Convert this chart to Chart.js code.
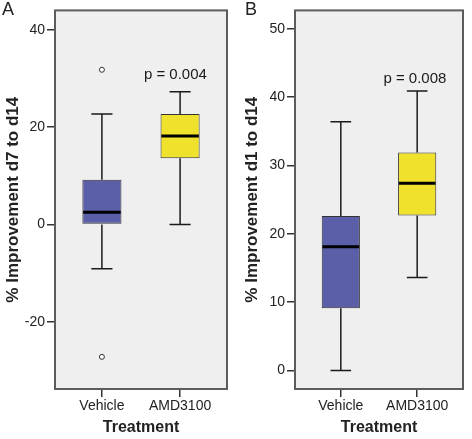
<!DOCTYPE html>
<html>
<head>
<meta charset="utf-8">
<script src="https://cdn.jsdelivr.net/npm/chart.js@4.4.1/dist/chart.umd.min.js"></script>
<style>
  body { margin: 0; background: #fff; }
  #wrap { position: relative; width: 472px; height: 439px; font-family: "Liberation Sans", Arial, sans-serif; }
  .panel { position: absolute; top: 0; width: 236px; height: 439px; }
  .letter { position: absolute; top: -1px; font-size: 18px; color: #222; }
</style>
</head>
<body>
<div id="wrap">
  <div class="panel" style="left:0"><canvas id="chartA" width="236" height="439"></canvas></div>
  <div class="panel" style="left:236px"><canvas id="chartB" width="236" height="439"></canvas></div>
  <div class="letter" style="left:2px">A</div>
  <div class="letter" style="left:245px">B</div>
</div>
<script>
const categories = ["Vehicle", "AMD3100"];
const boxColors = ["#5a5fa8", "#f0e22c"];

// panel A: % improvement d7 to d14
const aMin = [-9.1, 0];
const aQ1 = [0, 13.6];
const aMedian = [2.5, 18.2];
const aQ3 = [9.2, 22.7];
const aMax = [22.7, 27.3];
const aOutliers = [[31.8, -27.2], []];
const aTicks = [-20, 0, 20, 40];

// panel B: % improvement d1 to d14
const bMin = [0, 13.6];
const bQ1 = [9.1, 22.7];
const bMedian = [18.1, 27.4];
const bQ3 = [22.6, 31.9];
const bMax = [36.4, 40.9];
const bOutliers = [[], []];
const bTicks = [0, 10, 20, 30, 40, 50];

const font = "'Liberation Sans', Arial, sans-serif";

function makePanel(id, p) {
    const stems = [], caps = [], medians = [], outliers = [];
    categories.forEach((c, i) => {
        const x = i + 1;
        stems.push({x, y: p.max[i]}, {x, y: p.q3[i]}, {x, y: null});
        stems.push({x, y: p.q1[i]}, {x, y: p.min[i]}, {x, y: null});
        caps.push({x: x - 0.135, y: p.max[i]}, {x: x + 0.135, y: p.max[i]}, {x, y: null});
        caps.push({x: x - 0.135, y: p.min[i]}, {x: x + 0.135, y: p.min[i]}, {x, y: null});
        medians.push({x: x - 0.24, y: p.median[i]}, {x: x + 0.24, y: p.median[i]}, {x, y: null});
        p.outliers[i].forEach(v => outliers.push({x, y: v}));
    });

    const lineStyle = { type: "line", pointRadius: 0, borderColor: "#1a1a1a", borderWidth: 1.5, fill: false, spanGaps: false, tension: 0 };

    const framePlugin = {
        id: "frame",
        beforeDatasetsDraw(chart) {
            const a = chart.chartArea, ctx = chart.ctx;
            ctx.save();
            ctx.fillStyle = "#efefef";
            ctx.fillRect(a.left, a.top, a.right - a.left, a.bottom - a.top);
            ctx.restore();
        },
        afterDraw(chart) {
            const a = chart.chartArea, ctx = chart.ctx;
            ctx.save();
            ctx.strokeStyle = "#5c5c5c";
            ctx.lineWidth = 2;
            ctx.strokeRect(a.left, a.top, a.right - a.left, a.bottom - a.top);
            ctx.fillStyle = "#1a1a1a";
            ctx.font = "15px " + font;
            ctx.textAlign = "center";
            ctx.textBaseline = "middle";
            ctx.fillText(p.note, chart.scales.x.getPixelForValue(p.noteX), chart.scales.y.getPixelForValue(p.noteY));
            ctx.restore();
        }
    };

    new Chart(document.getElementById(id), {
        type: "bar",
        data: {
            datasets: [
                { type: "line", data: medians, ...lineStyle, borderWidth: 3, borderColor: "#000", order: 0 },
                { type: "line", data: outliers, showLine: false, pointRadius: 2.5, pointBackgroundColor: "#fff",
                  pointBorderColor: "#333", pointBorderWidth: 1, order: 1 },
                { type: "bar", data: categories.map((c, i) => ({x: i + 1, y: [p.q1[i], p.q3[i]]})),
                  backgroundColor: boxColors, borderColor: "#333", borderWidth: 1, borderSkipped: false,
                  barPercentage: 0.5, categoryPercentage: 1, order: 2 },
                { data: stems, ...lineStyle, order: 3 },
                { data: caps, ...lineStyle, order: 3 }
            ]
        },
        options: {
            responsive: false,
            animation: false,
            events: [],
            layout: { padding: { top: 10, right: 9, left: 0, bottom: 0 } },
            plugins: { legend: { display: false }, tooltip: { enabled: false } },
            scales: {
                x: {
                    type: "linear", min: 0.4, max: 2.6, offset: false,
                    afterBuildTicks: s => { s.ticks = categories.map((c, i) => ({value: i + 1})); },
                    afterFit: s => { s.height = 50; },
                    ticks: { callback: v => categories[v - 1], color: "#222", font: {family: font, size: 14}, padding: 1, maxRotation: 0, autoSkip: false },
                    grid: { drawOnChartArea: false, offset: false, tickLength: 8, color: "#333", lineWidth: 1.5 },
                    border: { display: false },
                    title: { display: true, text: "Treatment", color: "#222", font: {family: font, size: 16, weight: "bold"}, padding: {top: 0, bottom: 2} }
                },
                y: {
                    min: p.yMin, max: p.yMax,
                    afterBuildTicks: s => { s.ticks = p.ticks.map(v => ({value: v})); },
                    afterFit: s => { s.width = p.axisWidth; },
                    ticks: { color: "#222", font: {family: font, size: 14}, padding: 2 },
                    grid: { drawOnChartArea: false, tickLength: 8, color: "#333", lineWidth: 1.5 },
                    border: { display: false },
                    title: { display: true, text: p.title, color: "#222", font: {family: font, size: 17, weight: "bold"}, padding: {top: p.titlePad, bottom: 0} }
                }
            }
        },
        plugins: [framePlugin]
    });
}

makePanel("chartA", {
    min: aMin, q1: aQ1, median: aMedian, q3: aQ3, max: aMax, outliers: aOutliers, ticks: aTicks,
    yMin: -33.8, yMax: 44, axisWidth: 55, titlePad: 3,
    title: "% Improvement d7 to d14", note: "p = 0.004", noteX: 1.94, noteY: 30.7
});
makePanel("chartB", {
    min: bMin, q1: bQ1, median: bMedian, q3: bQ3, max: bMax, outliers: bOutliers, ticks: bTicks,
    yMin: -2.7, yMax: 52.7, axisWidth: 59, titlePad: 6,
    title: "% Improvement d1 to d14", note: "p = 0.008", noteX: 1.97, noteY: 42.7
});
</script>
</body>
</html>
